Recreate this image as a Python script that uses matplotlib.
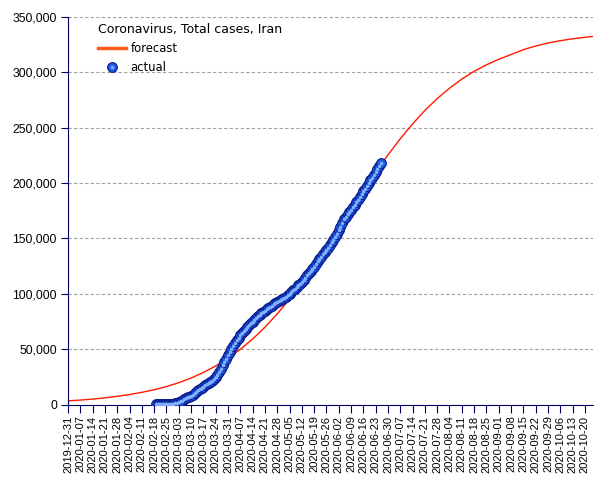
import matplotlib
matplotlib.use("Agg")
import matplotlib.pyplot as plt
import matplotlib.dates as mdates
from matplotlib.lines import Line2D
from matplotlib.legend_handler import HandlerTuple
from matplotlib.ticker import FuncFormatter
import pandas as pd

# actual total cases, daily from 2020-02-19
actual_start = "2020-02-19"
actual_cases = [
    2, 5, 18, 28, 43, 61, 95, 139, 245, 388, 593,
    978, 1501, 2336, 2922, 3513, 4747, 5823, 6566, 7161, 8042,
    9000, 10075, 11364, 12729, 13938, 14991, 16169, 17361, 18407, 19644,
    20610, 21638, 23049, 24811, 27017, 29406, 32332, 35408, 38309, 41495,
    44605, 47593, 50468, 53183, 55743, 58226, 60500, 62589, 64586, 66220,
    68192, 70029, 71686, 73303, 74877, 76389, 77995, 79494, 80868, 82211,
    83505, 84802, 85996, 87026, 88194, 89328, 90481, 91472, 92584, 93657,
    94640, 95646, 96448, 97424, 98647, 99970, 101650, 103135, 104691, 106220,
    107603, 109286, 110767, 112725, 114533, 116635, 118392, 120198, 122492, 124603,
    126949, 129341, 131652, 133521, 135701, 137724, 139511, 141591, 143849, 146668,
    148950, 151466, 154445, 157562, 160696, 164270, 167156, 169425, 171789, 173832,
    175927, 177938, 180156, 182525, 184955, 187427, 189876, 192439, 195051, 197647,
    200262, 202584, 204952, 207525, 209970, 212501, 215096, 217724,
]

# forecast, read weekly from 2019-12-31, last point 2020-10-25
forecast_dates = list(pd.date_range("2019-12-31", "2020-10-20", freq="7D")) + [pd.Timestamp("2020-10-25")]
forecast_cases = [
    3300, 4000, 4900, 6000, 7400, 9000, 11000, 13300, 16200, 19700,
    23900, 28900, 34800, 41700, 49800, 59100, 69800, 81800, 95100, 109800,
    125400, 141800, 158900, 176100, 193200, 209700, 225400, 240000, 253400, 265600,
    276300, 285700, 293900, 300900, 306800, 311800, 316100, 320500, 323800, 326500,
    328600, 330300, 331700, 332500,
]

tick_dates = pd.date_range("2019-12-31", "2020-10-20", freq="7D")
actual_dates = pd.date_range(actual_start, periods=len(actual_cases), freq="D")

navy = "#000060"
ball = "#1f5ae6"
ball_edge = "#0a1c8c"
shine = "#7fb0ff"

fig = plt.figure(figsize=(6.05, 4.8), dpi=100)
ax = fig.add_axes([68 / 605, 1 - 404.5 / 480, 525 / 605, 387.5 / 480])

ax.plot(forecast_dates, forecast_cases, color="#ff1a00", lw=1.0, zorder=2)
ax.plot(actual_dates, actual_cases, ls="none", marker="o", ms=7,
        mfc=ball, mec=ball_edge, mew=0.8, zorder=3)
ax.plot(actual_dates, actual_cases, ls="none", marker="o", ms=2.6,
        mfc=shine, mec="none", zorder=4)

ax.set_ylim(0, 350000)
ax.set_xlim(pd.Timestamp("2019-12-31"), pd.Timestamp("2020-10-24 15:00"))
ax.set_yticks(range(0, 350001, 50000))
ax.yaxis.set_major_formatter(FuncFormatter(lambda v, p: f"{int(v):,}"))
ax.set_xticks(tick_dates)
ax.xaxis.set_major_formatter(mdates.DateFormatter("%Y-%m-%d"))
ax.tick_params(axis="x", rotation=90, labelsize=8, length=6, color=navy, pad=2)
ax.tick_params(axis="y", labelsize=8.8, length=5, color=navy, pad=3)
for lab in ax.get_xticklabels() + ax.get_yticklabels():
    lab.set_fontfamily("Liberation Sans")

for s in ["top", "right"]:
    ax.spines[s].set_visible(False)
for s in ["left", "bottom"]:
    ax.spines[s].set_color(navy)

ax.yaxis.grid(True, color="#a0a0a0", linestyle=(0, (3, 2)), linewidth=0.8)
ax.set_axisbelow(True)

h_line = Line2D([], [], color="#ff5a1e", lw=2.5)
h_ball = (Line2D([], [], ls="none", marker="o", ms=7, mfc=ball, mec=ball_edge, mew=0.8),
          Line2D([], [], ls="none", marker="o", ms=2.6, mfc=shine, mec="none"))
leg = ax.legend([h_line, h_ball], ["forecast", "actual"], title="Coronavirus, Total cases, Iran",
                loc="upper left", bbox_to_anchor=(0.048, 0.996), frameon=False,
                fontsize=8.4, title_fontsize=9, alignment="left", borderaxespad=0,
                handlelength=2.4, handletextpad=0.4, labelspacing=0.52,
                handler_map={tuple: HandlerTuple(ndivide=1, pad=0)})

fig.savefig("out.png", dpi=100)
